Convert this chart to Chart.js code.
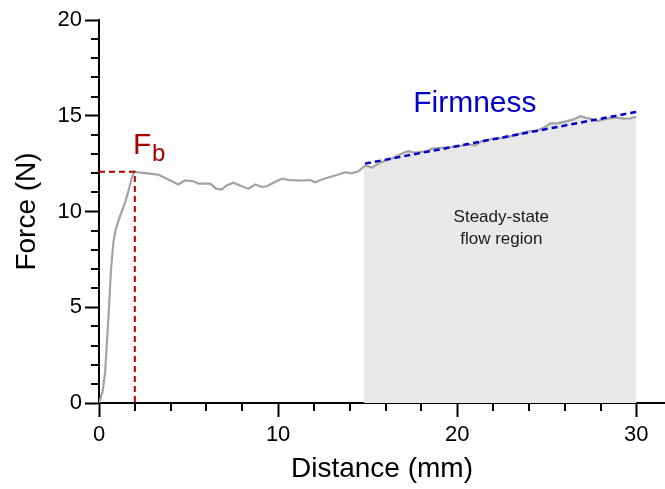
<!DOCTYPE html>
<html lang="en">
<head>
    <meta charset="UTF-8">
    <title>Force vs Distance</title>
    <script src="https://cdn.jsdelivr.net/npm/chart.js"></script>
    <style>
        body { margin: 0; padding: 0; background: #fff; }
        .wrap { width: 665px; height: 489px; }
    </style>
</head>
<body>
    <div class="wrap"><canvas id="forceChart" width="665" height="489"></canvas></div>

    <script>
        // Data
        const distance = [0, 0.06, 0.2, 0.34, 0.52, 0.67, 0.8, 0.93, 1.17, 1.45, 1.64, 1.83, 1.97,
            2.57, 3.3, 3.87, 4.43, 4.8, 5.27, 5.55, 6.2, 6.54, 6.85, 7.13, 7.5, 7.97, 8.34, 8.72,
            9.09, 9.37, 9.74, 10.2, 10.66, 11.41, 11.8, 12.07, 12.44, 12.9, 13.37, 13.74, 14.1,
            14.49, 14.86, 15.23, 15.7, 16.44, 17.0, 17.28, 17.65, 18.3, 18.59, 19.15, 19.98,
            20.54, 21.0, 21.38, 22.03, 22.68, 23.34, 23.9, 24.45, 24.82, 25.2, 25.57, 26.13,
            26.5, 26.87, 27.15, 27.43, 27.8, 28.36, 28.92, 29.29, 29.66, 30.0];
        const force = [0, 0.17, 0.6, 1.57, 4.35, 6.97, 8.36, 9.06, 9.75, 10.45, 11.06, 11.76, 12.07,
            12.0, 11.93, 11.67, 11.41, 11.62, 11.58, 11.46, 11.46, 11.19, 11.15, 11.36, 11.5, 11.32,
            11.19, 11.41, 11.29, 11.32, 11.5, 11.71, 11.64, 11.62, 11.64, 11.53, 11.67, 11.8, 11.93,
            12.05, 11.99, 12.1, 12.4, 12.3, 12.55, 12.81, 13.07, 13.15, 13.07, 13.15, 13.28, 13.33,
            13.38, 13.5, 13.45, 13.68, 13.8, 13.85, 14.03, 14.17, 14.23, 14.37, 14.6, 14.6, 14.72,
            14.81, 14.98, 14.9, 14.85, 14.72, 14.85, 14.9, 14.85, 14.86, 14.95];

        // breaking point (Fb) and firmness fit
        const fbDistance = 2.0;
        const fbForce = 12.07;
        const firmnessX = [14.85, 30.0];
        const firmnessY = [12.5, 15.2];

        // steady-state region
        const steadyStart = 14.8;
        const steadyStartForce = 12.35;
        const steadyEnd = 30.0;

        const xMajor = [0, 10, 20, 30];
        const yMajor = [0, 5, 10, 15, 20];

        const curve = distance.map((d, i) => ({ x: d, y: force[i] }));
        const steadyFill = [{ x: steadyStart, y: steadyStartForce }]
            .concat(curve.filter(p => p.x > steadyStart && p.x <= steadyEnd));

        const FONT = '"Liberation Sans", Arial, sans-serif';

        // short minor ticks + text labels
        const extras = {
            id: 'extras',
            afterDraw(chart) {
                const ctx = chart.ctx;
                const xs = chart.scales.x, ys = chart.scales.y;
                const area = chart.chartArea;
                ctx.save();
                ctx.strokeStyle = '#000';
                ctx.lineWidth = 2;
                xs.ticks.forEach(t => {
                    if (xMajor.includes(t.value)) return;
                    const px = Math.round(xs.getPixelForValue(t.value));
                    ctx.beginPath();
                    ctx.moveTo(px, area.bottom);
                    ctx.lineTo(px, area.bottom + 8);
                    ctx.stroke();
                });
                ys.ticks.forEach(t => {
                    if (yMajor.includes(t.value)) return;
                    const py = Math.round(ys.getPixelForValue(t.value));
                    ctx.beginPath();
                    ctx.moveTo(area.left, py);
                    ctx.lineTo(area.left - 8, py);
                    ctx.stroke();
                });

                // F_b
                ctx.fillStyle = '#a80000';
                ctx.textBaseline = 'alphabetic';
                ctx.textAlign = 'left';
                ctx.font = '30px ' + FONT;
                ctx.fillText('F', xs.getPixelForValue(1.9), ys.getPixelForValue(12.98));
                ctx.font = '24px ' + FONT;
                ctx.fillText('b', xs.getPixelForValue(2.96), ys.getPixelForValue(12.62));

                // Firmness
                ctx.fillStyle = '#0000cc';
                ctx.font = '30px ' + FONT;
                ctx.fillText('Firmness', xs.getPixelForValue(17.54), ys.getPixelForValue(15.18));

                // region label
                ctx.fillStyle = '#1a1a1a';
                ctx.font = '17px ' + FONT;
                ctx.textAlign = 'center';
                ctx.textBaseline = 'middle';
                const cx = xs.getPixelForValue(22.46);
                ctx.fillText('Steady-state', cx, ys.getPixelForValue(9.68));
                ctx.fillText('flow region', cx, ys.getPixelForValue(8.53));
                ctx.restore();
            }
        };

        new Chart(document.getElementById('forceChart'), {
            type: 'line',
            data: {
                datasets: [
                    {
                        data: curve,
                        borderColor: '#a3a3a3',
                        borderWidth: 2.2,
                        pointRadius: 0,
                        fill: false,
                        order: 1
                    },
                    {
                        data: firmnessX.map((d, i) => ({ x: d, y: firmnessY[i] })),
                        borderColor: '#0000cc',
                        borderWidth: 2.5,
                        borderDash: [6, 4],
                        pointRadius: 0,
                        fill: false,
                        order: 0
                    },
                    {
                        data: [{ x: 0, y: fbForce }, { x: fbDistance, y: fbForce }, { x: fbDistance, y: 0 }],
                        borderColor: '#b00000',
                        borderWidth: 2,
                        borderDash: [6, 4],
                        pointRadius: 0,
                        fill: false,
                        order: 0
                    },
                    {
                        data: steadyFill,
                        borderWidth: 0,
                        borderColor: 'rgba(0,0,0,0)',
                        backgroundColor: '#e8e8e8',
                        pointRadius: 0,
                        fill: 'origin',
                        order: 3
                    }
                ]
            },
            options: {
                responsive: false,
                animation: false,
                layout: { padding: { top: 20, right: 0, bottom: 0, left: 0 } },
                plugins: {
                    legend: { display: false },
                    tooltip: { enabled: false }
                },
                scales: {
                    x: {
                        type: 'linear',
                        min: 0,
                        max: 31.6,
                        afterFit: s => { s.height = 86; },
                        border: { display: true, color: '#000', width: 2 },
                        grid: {
                            drawOnChartArea: false,
                            drawTicks: true,
                            tickLength: 14,
                            tickWidth: 2,
                            tickColor: c => xMajor.includes(c.tick.value) ? '#000' : 'rgba(0,0,0,0)'
                        },
                        ticks: {
                            stepSize: 2,
                            includeBounds: false,
                            autoSkip: false,
                            maxRotation: 0,
                            padding: 5,
                            color: '#000',
                            font: { family: FONT, size: 22 },
                            callback: v => xMajor.includes(v) ? String(v) : ''
                        },
                        title: {
                            display: true,
                            text: 'Distance (mm)',
                            color: '#000',
                            font: { family: FONT, size: 28 },
                            padding: { top: 0, bottom: 3 }
                        }
                    },
                    y: {
                        min: 0,
                        max: 20,
                        afterFit: s => { s.width = 99; },
                        border: { display: true, color: '#000', width: 2 },
                        grid: {
                            drawOnChartArea: false,
                            drawTicks: true,
                            tickLength: 14,
                            tickWidth: 2,
                            tickColor: c => yMajor.includes(c.tick.value) ? '#000' : 'rgba(0,0,0,0)'
                        },
                        ticks: {
                            stepSize: 1,
                            autoSkip: false,
                            padding: 3,
                            color: '#000',
                            font: { family: FONT, size: 22 },
                            callback: v => yMajor.includes(v) ? String(v) : ''
                        },
                        title: {
                            display: true,
                            text: 'Force (N)',
                            color: '#000',
                            font: { family: FONT, size: 28 },
                            padding: { top: 10, bottom: 0 }
                        }
                    }
                }
            },
            plugins: [extras]
        });
    </script>
</body>
</html>
